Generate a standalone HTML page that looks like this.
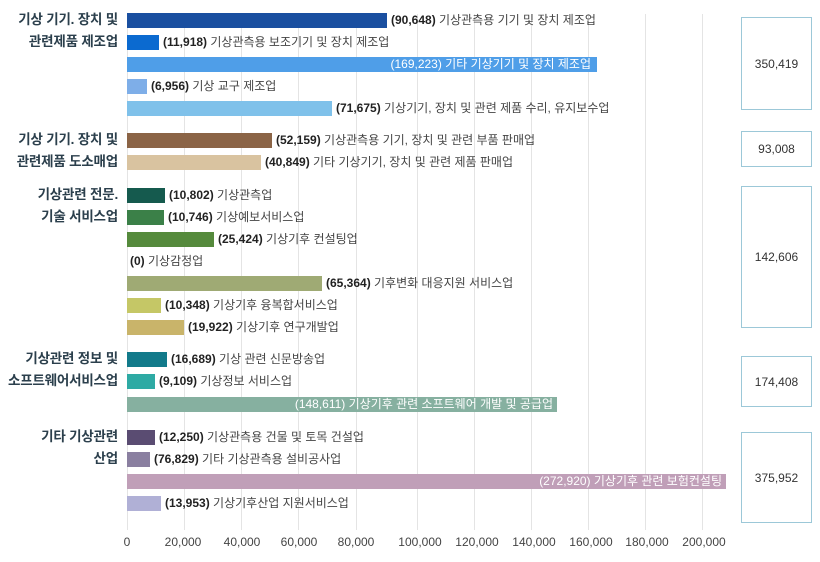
<!DOCTYPE html><html><head><meta charset="utf-8"><style>
body{margin:0;width:820px;height:562px;background:#fff;font-family:"Liberation Sans","Noto Sans CJK KR",sans-serif;position:relative;overflow:hidden}
.g{position:absolute;top:14px;height:516px;width:1px;background:#e4e4e4}
.b{position:absolute;left:127px;height:15px}
.t{position:absolute;font-size:12px;color:#444;white-space:nowrap;line-height:15px;letter-spacing:0}
.t b{color:#222}
.w{color:#fff}
.c{position:absolute;right:702px;text-align:right;font-size:13.5px;font-weight:bold;color:#2b3f4c;line-height:22px;letter-spacing:-0.2px}
.box{position:absolute;left:741px;width:69px;border:1px solid #9cc8d8;font-size:12px;color:#333;display:flex;align-items:center;justify-content:center}
.x{position:absolute;top:535px;font-size:12px;color:#444;transform:translateX(-50%)}
</style></head><body>
<div class="g" style="left:127px"></div><div class="g" style="left:184px"></div><div class="g" style="left:241px"></div><div class="g" style="left:298px"></div><div class="g" style="left:356px"></div><div class="g" style="left:417px"></div><div class="g" style="left:474px"></div><div class="g" style="left:531px"></div><div class="g" style="left:588px"></div><div class="g" style="left:645px"></div><div class="g" style="left:702px"></div>

<div class="c" style="top:9px">기상 기기. 장치 및<br>관련제품 제조업</div>
<div class="c" style="top:129px">기상 기기. 장치 및<br>관련제품 도소매업</div>
<div class="c" style="top:184px">기상관련 전문.<br>기술 서비스업</div>
<div class="c" style="top:348px">기상관련 정보 및<br>소프트웨어서비스업</div>
<div class="c" style="top:426px">기타 기상관련<br>산업</div>

<div class="b" style="top:13px;width:260px;background:#1a4fa0"></div><div class="t" style="top:13px;left:391px"><b>(90,648)</b> 기상관측용 기기 및 장치 제조업</div>
<div class="b" style="top:35px;width:32px;background:#0b6ad0"></div><div class="t" style="top:35px;left:163px"><b>(11,918)</b> 기상관측용 보조기기 및 장치 제조업</div>
<div class="b" style="top:57px;width:470px;background:#4f9ee8"></div><div class="t w" style="top:57px;right:229px">(169,223) 기타 기상기기 및 장치 제조업</div>
<div class="b" style="top:79px;width:20px;background:#7eaee8"></div><div class="t" style="top:79px;left:151px"><b>(6,956)</b> 기상 교구 제조업</div>
<div class="b" style="top:101px;width:205px;background:#7fc1ea"></div><div class="t" style="top:101px;left:336px"><b>(71,675)</b> 기상기기, 장치 및 관련 제품 수리, 유지보수업</div>

<div class="b" style="top:133px;width:145px;background:#8b6446"></div><div class="t" style="top:133px;left:276px"><b>(52,159)</b> 기상관측용 기기, 장치 및 관련 부품 판매업</div>
<div class="b" style="top:155px;width:134px;background:#d9c3a0"></div><div class="t" style="top:155px;left:265px"><b>(40,849)</b> 기타 기상기기, 장치 및 관련 제품 판매업</div>

<div class="b" style="top:188px;width:38px;background:#155a4e"></div><div class="t" style="top:188px;left:169px"><b>(10,802)</b> 기상관측업</div>
<div class="b" style="top:210px;width:37px;background:#3b8048"></div><div class="t" style="top:210px;left:168px"><b>(10,746)</b> 기상예보서비스업</div>
<div class="b" style="top:232px;width:87px;background:#558a3c"></div><div class="t" style="top:232px;left:218px"><b>(25,424)</b> 기상기후 컨설팅업</div>
<div class="t" style="top:254px;left:130px"><b>(0)</b> 기상감정업</div>
<div class="b" style="top:276px;width:195px;background:#9faa74"></div><div class="t" style="top:276px;left:326px"><b>(65,364)</b> 기후변화 대응지원 서비스업</div>
<div class="b" style="top:298px;width:34px;background:#c5c766"></div><div class="t" style="top:298px;left:165px"><b>(10,348)</b> 기상기후 융복합서비스업</div>
<div class="b" style="top:320px;width:57px;background:#c9b46a"></div><div class="t" style="top:320px;left:188px"><b>(19,922)</b> 기상기후 연구개발업</div>

<div class="b" style="top:352px;width:40px;background:#127a8a"></div><div class="t" style="top:352px;left:171px"><b>(16,689)</b> 기상 관련 신문방송업</div>
<div class="b" style="top:374px;width:28px;background:#2eaaa4"></div><div class="t" style="top:374px;left:159px"><b>(9,109)</b> 기상정보 서비스업</div>
<div class="b" style="top:397px;width:430px;background:#86b0a0"></div><div class="t w" style="top:397px;right:267px">(148,611) 기상기후 관련 소프트웨어 개발 및 공급업</div>

<div class="b" style="top:430px;width:28px;background:#5a4c72"></div><div class="t" style="top:430px;left:159px"><b>(12,250)</b> 기상관측용 건물 및 토목 건설업</div>
<div class="b" style="top:452px;width:23px;background:#8a7fa0"></div><div class="t" style="top:452px;left:154px"><b>(76,829)</b> 기타 기상관측용 설비공사업</div>
<div class="b" style="top:474px;width:599px;background:#c09fb8"></div><div class="t w" style="top:474px;right:98px">(272,920) 기상기후 관련 보험컨설팅</div>
<div class="b" style="top:496px;width:34px;background:#b0b0d6"></div><div class="t" style="top:496px;left:165px"><b>(13,953)</b> 기상기후산업 지원서비스업</div>

<div class="box" style="top:17px;height:91px">350,419</div>
<div class="box" style="top:131px;height:34px">93,008</div>
<div class="box" style="top:186px;height:140px">142,606</div>
<div class="box" style="top:356px;height:49px">174,408</div>
<div class="box" style="top:432px;height:89px">375,952</div>

<div class="x" style="left:127px">0</div><div class="x" style="left:183px">20,000</div><div class="x" style="left:242px">40,000</div><div class="x" style="left:299px">60,000</div><div class="x" style="left:356px">80,000</div><div class="x" style="left:420px">100,000</div><div class="x" style="left:477px">120,000</div><div class="x" style="left:534px">140,000</div><div class="x" style="left:591px">160,000</div><div class="x" style="left:647px">180,000</div><div class="x" style="left:704px">200,000</div>
</body></html>
